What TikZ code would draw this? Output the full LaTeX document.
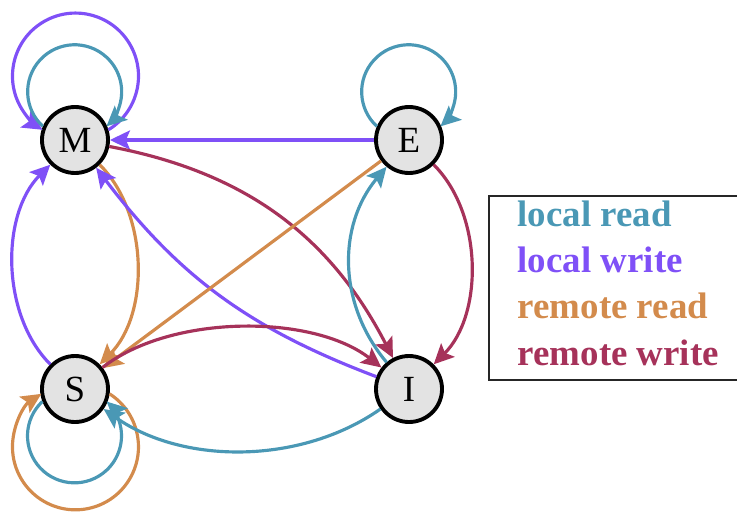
\documentclass[tikz,border=0pt]{standalone}
\usepackage{fontspec}
\setmainfont{Liberation Serif}
\usepackage{xcolor}
\usepackage{tikz}
\usetikzlibrary{arrows.meta}

\definecolor{localread}{HTML}{4A98B5}
\definecolor{localwrite}{HTML}{7F50F7}
\definecolor{remoteread}{HTML}{D38B4C}
\definecolor{remotewrite}{HTML}{A6325A}

\begin{document}
\begin{tikzpicture}[
  state/.style={circle, draw=black, line width=1.1pt, fill=gray!22,
                minimum size=0.66cm, inner sep=0pt,
                font=\fontsize{10.5}{12}\selectfont},
  trans/.style={line width=0.9pt, -{Stealth[length=2mm, width=1.9mm, inset=0.4mm]}},
  lr/.style={trans, draw=localread},
  lw/.style={trans, draw=localwrite},
  rr/.style={trans, draw=remoteread},
  rw/.style={trans, draw=remotewrite},
  key/.style={anchor=base west, inner sep=0pt,
              font=\fontsize{10.5}{12}\selectfont\bfseries},
]
  \useasboundingbox (0,0) rectangle (7.37,-5.14);

  % States
  \node[state] at (0.75,-1.40) (M) {M};
  \node[state] at (4.09,-1.40) (E) {E};
  \node[state] at (0.75,-3.89) (S) {S};
  \node[state] at (4.09,-3.89) (I) {I};

  % Self loops (circular arcs, centred above/below the state)
  \draw[lw] (M.17.4) arc[start angle=-58.5, end angle=238.5, radius=0.63];
  \draw[lr] (M.157.2) arc[start angle=227.4, end angle=-47.4, radius=0.47];
  \draw[lr] (E.157.2) arc[start angle=227.4, end angle=-47.4, radius=0.47];
  \draw[rr] (S.-8.4) arc[start angle=57.2, end angle=-237.2, radius=0.63];
  \draw[lr] (S.201.5) arc[start angle=133.1, end angle=406.9, radius=0.47];

  % Transitions between states
  \draw[lw] (E) -- (M);
  \draw[rw] (M) to[bend left=26] (I);
  \draw[rr] (M) to[out=-45, in=45, looseness=0.9] (S);
  \draw[lw] (S) to[out=135, in=-135, looseness=0.9] (M);
  \draw[lw] (I) to[bend left=16] (M);
  \draw[rr] (E) -- (S);
  \draw[rw] (S) to[out=38, in=142, looseness=0.8] (I);
  \draw[lr] (I) to[out=130, in=-130] (E);
  \draw[rw] (E) to[out=-45, in=45, looseness=0.9] (I);
  \draw[lr] (I) to[out=-145, in=-35, looseness=0.9] (S);

  % Legend
  \draw[line width=0.6pt, black!85] (7.40,-1.96) -| (4.89,-3.80) -- (7.40,-3.80);
  \node[key, text=localread]   at (5.17,-2.26) (k1) {local read};
  \node[key, text=localwrite]  at (5.17,-2.72) (k2) {local write};
  \node[key, text=remoteread]  at (5.17,-3.18) (k3) {remote read};
  \node[key, text=remotewrite] at (5.17,-3.65) (k4) {remote write};
\end{tikzpicture}
\end{document}
